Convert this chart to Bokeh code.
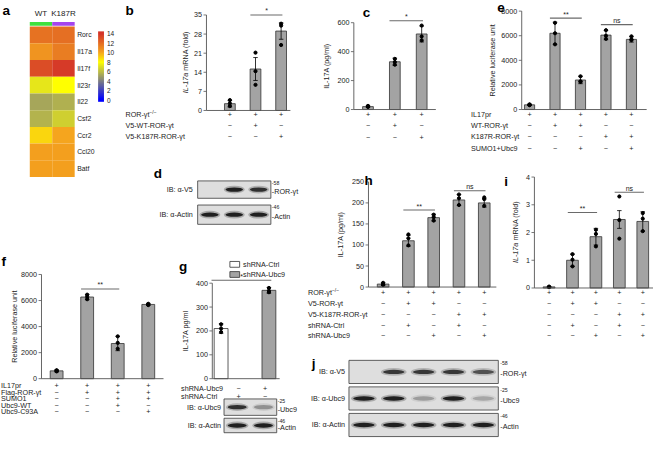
from math import pi
import numpy as np
from bokeh.plotting import figure
from bokeh.models import Range1d, LinearColorMapper, ColumnDataSource
from bokeh.embed import file_html
from bokeh.resources import INLINE
from bokeh.core.properties import value

# ---------------- data ----------------
genes = ["Rorc", "Il17a", "Il17f", "Il23r", "Il22", "Csf2", "Ccr2", "Ccl20", "Batf"]
heat_cols = ["WT", "K187R"]
heat_wt = [11.8, 10.6, 13.1, 7.2, 5.2, 5.6, 8.9, 10.2, 10.2]
heat_k187r = [11.9, 11.4, 13.8, 8.0, 5.5, 6.5, 10.0, 10.2, 10.2]
heat_ticks = [0, 2, 4, 6, 8, 10, 12, 14]

b_rows = ["ROR-γt", "V5-WT-ROR-γt", "V5-K187R-ROR-γt"]
b_signs = [["+", "+", "+"], ["−", "+", "−"], ["−", "−", "+"]]
b_mean = [2.5, 15.2, 29.1]
b_err = [1.2, 4.2, 3.0]
b_pts = [[3.8, 2.6, 1.6], [21.2, 14.4, 9.4], [31.8, 31.1, 24.0]]
b_ticks = [0, 7, 14, 21, 28, 35]
b_sig = [(2, 3, 35.0, "*")]

c_signs = [["+", "+", "+"], ["−", "+", "−"], ["−", "−", "+"]]
c_mean = [20, 330, 522]
c_err = [5, 25, 55]
c_pts = [[25, 22, 18], [350, 328, 310], [580, 505, 478]]
c_ticks = [0, 200, 400, 600]
c_sig = [(2, 3, 613, "*")]

e_rows = ["IL17pr", "WT-ROR-γt", "K187R-ROR-γt", "SUMO1+Ubc9"]
e_signs = [["+", "+", "+", "+", "+"], ["−", "+", "+", "−", "−"],
           ["−", "−", "−", "+", "+"], ["−", "−", "+", "−", "+"]]
e_mean = [380, 6200, 2400, 6050, 5700]
e_err = [50, 900, 300, 380, 220]
e_pts = [[420, 380, 350], [7050, 6200, 5300], [2700, 2300, 2250], [6450, 6000, 5750], [5950, 5700, 5650]]
e_ticks = [0, 2000, 4000, 6000, 8000]
e_sig = [(2, 3, 7430, "**"), (4, 5, 6900, "ns")]

f_rows = ["IL17pr", "Flag-ROR-γt", "SUMO1", "Ubc9-WT", "Ubc9-C93A"]
f_signs = [["+", "+", "+", "+"], ["−", "+", "+", "+"], ["−", "−", "+", "+"],
           ["−", "−", "+", "−"], ["−", "−", "−", "+"]]
f_mean = [600, 6270, 2700, 5700]
f_err = [80, 200, 550, 80]
f_pts = [[650, 600, 560], [6450, 6300, 6100], [3250, 2750, 2300], [5750, 5700, 5650]]
f_ticks = [0, 2000, 4000, 6000, 8000]
f_sig = [(2, 3, 6890, "**")]

g_groups = ["shRNA-Ctrl", "shRNA-Ubc9"]
g_mean = [210, 370]
g_err = [20, 12]
g_pts = [[228, 210, 195], [380, 368, 362]]
g_ticks = [0, 100, 200, 300, 400]
g_sig = [(1, 2, 412, "*")]
g_fill = ["#ffffff", "#a3a3a3"]
g_rows = ["shRNA-Ubc9", "shRNA-Ctrl"]
g_signs = [["−", "+"], ["+", "−"]]

h_rows = ["ROR-γt", "V5-ROR-γt", "V5-K187R-ROR-γt", "shRNA-Ctrl", "shRNA-Ubc9"]
h_signs = [["+", "+", "+", "+", "+"], ["−", "+", "+", "−", "−"], ["−", "−", "−", "+", "+"],
           ["−", "+", "−", "+", "−"], ["−", "−", "+", "−", "+"]]
h_mean = [7, 110, 165, 207, 200]
h_err = [3, 13, 8, 13, 10]
h_pts = [[10, 6, 5], [125, 116, 99], [172, 166, 158], [220, 211, 195], [213, 209, 193]]
h_ticks = [0, 50, 100, 150, 200, 250]
h_sig = [(2, 3, 183, "**"), (4, 5, 229, "ns")]

i_mean = [0.04, 1.0, 1.85, 2.47, 2.4]
i_err = [0.01, 0.22, 0.3, 0.32, 0.35]
i_pts = [[0.05, 0.04, 0.03], [1.22, 1.02, 0.78], [2.1, 1.95, 1.5], [3.3, 2.45, 1.78], [2.7, 2.5, 2.05]]
i_ticks = [0, 1, 2, 3, 4]
i_sig = [(2, 3, 2.72, "**"), (4, 5, 3.45, "ns")]

d_rows = ["IB: α-V5", "IB: α-Actin"]
d_marks = [("-58", "-ROR-γt"), ("-46", "-Actin")]
d_bands = [[0, 1.0, 0.9], [1.0, 1.0, 1.0]]

gb_rows = ["IB: α-Ubc9", "IB: α-Actin"]
gb_marks = [("-25", "-Ubc9"), ("-46", "-Actin")]
gb_bands = [[0.9, 0.35], [1.0, 1.0]]

j_rows = ["IB: α-V5", "IB: α-Ubc9", "IB: α-Actin"]
j_marks = [("-58", "-ROR-γt"), ("-25", "-Ubc9"), ("-46", "-Actin")]
j_bands = [[0, 0.85, 0.85, 0.85, 0.7], [1.0, 1.0, 0.3, 1.0, 0.25], [1.0, 1.0, 1.0, 1.0, 1.0]]

# ---------------- styling ----------------
FONT = "Liberation Sans"
FS = "7.2px"
TXT = "#222222"
AXC = "#555555"
BAR = "#a3a3a3"
SUP = ("ROR-γt",)

stops = [(0, (0, 0, 255)), (4, (128, 128, 128)), (8, (255, 255, 0)), (10, (245, 165, 30)), (14, (212, 52, 40))]
PAL = []
for k in range(141):
    v = k / 10.0
    for (v0, c0), (v1, c1) in zip(stops[:-1], stops[1:]):
        if v0 <= v <= v1:
            t = (v - v0) / float(v1 - v0)
            break
    PAL.append("#%02x%02x%02x" % tuple(int(round(a + (b - a) * t)) for a, b in zip(c0, c1)))

# one canvas in reference-pixel coordinates; each panel is a sub-coordinate system
p = figure(width=653, height=438, x_range=Range1d(0, 669), y_range=Range1d(454, 0),
           x_axis_type=None, y_axis_type=None, toolbar_location=None, output_backend="svg",
           min_border=0, min_border_left=0, min_border_right=0, min_border_top=0, min_border_bottom=0)
p.outline_line_color = None
p.background_fill_color = "white"
p.border_fill_color = "white"


def lin(p0, v0, p1, v1):
    k = (v1 - v0) / float(p1 - p0)
    return lambda q: v0 + (q - p0) * k


def texts(g, xs, ys, ts, size=FS, align="left", baseline="middle", angle=0.0, style="normal",
          color=TXT, x_offset=0, y_offset=0):
    g.text(x=list(xs), y=list(ys), text=list(ts), text_font=value(FONT), text_font_size=size,
           text_align=align, text_baseline=baseline, angle=angle, text_font_style=style,
           text_color=color, x_offset=x_offset, y_offset=y_offset)


def letter_at(xy, ch):
    texts(p, [xy[0]], [xy[1]], [ch], size="13.5px", baseline="top", style="bold", color="black")


def ylabel_text(x, cy, label):
    if isinstance(label, tuple):
        ital, rest = label
        anchor = cy + 10.5
        texts(p, [x], [anchor], [ital], align="right", angle=pi / 2, style="italic")
        texts(p, [x], [anchor - 2.3], [rest], align="left", angle=pi / 2)
    else:
        texts(p, [x], [cy], [label], align="center", angle=pi / 2)


def bar_panel(ax_x, ax_end, x1, step, base, top_px, ticks, means, errs, pts, ylabel, ylabel_x,
              sigs, signs, rows_y, rows=None, rows_x=None, sign_px=None, bar_w=0.42, fills=None,
              letter=None, letter_xy=None):
    fx = lin(x1, 1, x1 + step, 2)
    xd0, xd1 = fx(ax_x), fx(ax_end)
    top = ticks[-1]
    s = p.subplot(x_source=Range1d(xd0, xd1), y_source=Range1d(0, top),
                  x_target=Range1d(ax_x, ax_end), y_target=Range1d(base, top_px))
    n = len(means)
    xs = [k + 1 for k in range(n)]
    s.vbar(x=xs, top=means, width=bar_w, fill_color=fills or [BAR] * n,
           line_color="#333333", line_width=0.8)
    lo = [m - e for m, e in zip(means, errs)]
    hi = [m + e for m, e in zip(means, errs)]
    ux = 1.0 / step
    cap = 2.3 * ux
    s.segment(x0=xs, y0=lo, x1=xs, y1=hi, line_color="black", line_width=0.8)
    s.segment(x0=[x - cap for x in xs] * 2, y0=lo + hi, x1=[x + cap for x in xs] * 2, y1=lo + hi,
              line_color="black", line_width=0.8)
    s.scatter(x=[x for x, pp in zip(xs, pts) for _ in pp], y=[v for pp in pts for v in pp],
              size=3.2, color="black")
    for a, b2, lvl, txt in sigs:
        s.segment(x0=[a - 0.2], y0=[lvl], x1=[b2 + 0.05], y1=[lvl], line_color="#6a6a6a", line_width=1.1)
        texts(s, [(a + b2) / 2.0 - 0.07], [lvl], [txt], size="7px", align="center",
              baseline="bottom", y_offset=-0.5)
    # axes
    s.segment(x0=[xd0, xd0], y0=[0, 0], x1=[xd0, xd1], y1=[top, 0], line_color=AXC, line_width=0.9)
    nt = len(ticks)
    s.segment(x0=[xd0 - 3 * ux] * nt, y0=ticks, x1=[xd0] * nt, y1=ticks, line_color=AXC, line_width=0.8)
    texts(s, [xd0 - 4.5 * ux] * nt, ticks, [str(tk) for tk in ticks], align="right")
    ylabel_text(ylabel_x, (base + top_px) / 2.0, ylabel)
    # condition table under the bars
    nr = len(signs)
    tb = p.subplot(x_source=Range1d(xd0, xd1), y_source=Range1d(0, nr - 1),
                   x_target=Range1d(ax_x, ax_end), y_target=Range1d(rows_y[0], rows_y[-1]))
    tx, ty, tt = [], [], []
    for r, row in enumerate(signs):
        for k, sgn in enumerate(row):
            tx.append(xs[k] if sign_px is None else fx(sign_px[k]))
            ty.append(r)
            tt.append(sgn)
    texts(tb, tx, ty, tt, align="center")
    if rows:
        texts(tb, [fx(rows_x)] * nr, list(range(nr)), rows)
        for r, name in enumerate(rows):
            if name in SUP:
                texts(tb, [fx(rows_x + 24.5)], [r], ["−/−"], size="5px", y_offset=-2.5)
    if letter:
        letter_at(letter_xy, letter)
    return s, fx


def blot(lx0, lx1, n, cys, hh, rows, marks, bands, left_x, right_x, letter=None, letter_xy=None):
    nr = len(rows)
    sb = p.subplot(x_source=Range1d(0.5, n + 0.5), y_source=Range1d(0, nr - 1),
                   x_target=Range1d(lx0, lx1), y_target=Range1d(cys[-1], cys[0]))
    unit = (nr - 1) / float(cys[-1] - cys[0])
    lanes = list(range(1, n + 1))
    for r in range(nr):
        yc = nr - 1 - r
        h2 = hh[r] * unit
        sb.quad(left=[0.5], right=[n + 0.5], bottom=[yc - h2], top=[yc + h2],
                fill_color="#dedede", line_color="#3a3a3a", line_width=0.8)
        inten = bands[r]
        sb.ellipse(x=lanes, y=[yc] * n, width=0.86, height=8 * unit, fill_color="#333333",
                   fill_alpha=[0.3 * v for v in inten], line_color=None)
        sb.ellipse(x=lanes, y=[yc] * n, width=0.72, height=4.5 * unit, fill_color="#111111",
                   fill_alpha=[0.9 * v for v in inten], line_color=None)
    texts(p, [left_x] * nr, cys, rows, align="right")
    texts(p, [right_x] * nr, [c - h + 2.5 for c, h in zip(cys, hh)], [m[0] for m in marks], size="5.2px")
    texts(p, [right_x] * nr, [c + 2 for c in cys], [m[1] for m in marks])
    if letter:
        letter_at(letter_xy, letter)


# ---------------- panel a: heatmap ----------------
ng = len(genes)
fyh = lin(183, 0, 27, ng)
sh = p.subplot(x_source=Range1d(0, 2), y_source=Range1d(0, ng),
               x_target=Range1d(30, 76), y_target=Range1d(183, 27))
mapper = LinearColorMapper(palette=PAL, low=0, high=14)
ycent = [ng - 0.5 - k for k in range(ng)]
hsrc = ColumnDataSource(dict(x=[0.5] * ng + [1.5] * ng, y=ycent * 2, v=heat_wt + heat_k187r))
sh.rect(x="x", y="y", width=1, height=1, source=hsrc,
        fill_color={"field": "v", "transform": mapper}, line_color=None)
sh.quad(left=[0, 1], right=[1, 2], bottom=[fyh(26.3)] * 2, top=[fyh(22.3)] * 2,
        fill_color=["#3ee03e", "#a444ee"], line_color=None)
texts(sh, [0.5, 1.5], [fyh(13.5)] * 2, heat_cols, size="8px", align="center")
texts(sh, [2] * ng, ycent, genes, size="6.8px", x_offset=2.5)
letter_at((2, 3), "a")

fyc = lin(103.3, 0, 34.3, 14)
sc = p.subplot(x_source=Range1d(0, 1), y_source=Range1d(0, 14),
               x_target=Range1d(100, 106), y_target=Range1d(103.3, 34.3))
glo, ghi = fyc(105), fyc(32)
grad = np.linspace(glo, ghi, 120).reshape(-1, 1)
sc.image(image=[grad], x=0, y=glo, dw=1, dh=ghi - glo, color_mapper=mapper)
texts(sc, [1] * len(heat_ticks), heat_ticks, [str(tk) for tk in heat_ticks], size="6.5px", x_offset=3)

# ---------------- bar panels ----------------
bar_panel(211, 297, 235, 26.25, 114, 15, b_ticks, b_mean, b_err, b_pts,
          ("IL-17a", "mRNA (fold)"), 190, b_sig, b_signs, [118.5, 129.5, 140.5], rows=b_rows,
          rows_x=128, bar_w=0.42, letter="b", letter_xy=(128, 3))

bar_panel(362, 446, 376.5, 27.5, 113, 23, c_ticks, c_mean, c_err, c_pts,
          "IL-17A (pg/ml)", 334, c_sig, c_signs, [118, 130, 141.5], bar_w=0.4,
          letter="c", letter_xy=(371, 5))

bar_panel(534, 662, 542, 26.1, 113, 11, e_ticks, e_mean, e_err, e_pts,
          "Relative luciferase unit", 504, e_sig, e_signs, [118, 130, 141.5, 153], rows=e_rows, rows_x=482,
          bar_w=0.4, letter="e", letter_xy=(509, 3))

bar_panel(42, 167, 57.5, 31.3, 392, 284, f_ticks, f_mean, f_err, f_pts,
          "Relative luciferase unit", 14, f_sig, f_signs, [399, 406.5, 413, 419.5, 426.5], rows=f_rows,
          rows_x=0.5, bar_w=0.42, letter="f", letter_xy=(1, 263))

sg, fxg = bar_panel(217, 286, 226, 49, 392, 293, g_ticks, g_mean, g_err, g_pts,
                    "IL-17A pg/ml", 190, g_sig, g_signs, [402, 410], rows=g_rows, rows_x=185,
                    sign_px=[244, 271], bar_w=0.29, fills=g_fill, letter="g", letter_xy=(183, 268))
leg_y = [273.5, 284]
p.quad(left=[235] * 2, right=[245] * 2, bottom=[y + 3 for y in leg_y], top=[y - 3 for y in leg_y],
       fill_color=g_fill, line_color="#333333", line_width=0.8)
texts(p, [248.5] * 2, leg_y, g_groups)

bar_panel(377, 508, 392, 25.9, 297, 188, h_ticks, h_mean, h_err, h_pts,
          "IL-17A (pg/ml)", 348, h_sig, h_signs, [303, 314.5, 326, 337, 347.5], rows=h_rows, rows_x=315,
          bar_w=0.46, letter="h", letter_xy=(373, 179))

bar_panel(547, 669, 562, 24, 298, 183, i_ticks, i_mean, i_err, i_pts,
          ("IL-17a", "mRNA (fold)"), 528, i_sig, h_signs, [303, 314.5, 326, 337, 347.5], bar_w=0.5,
          letter="i", letter_xy=(516, 180))

# ---------------- blots ----------------
blot(202, 277, 3, [196, 222], [9, 10], d_rows, d_marks, d_bands, 197, 278,
     letter="d", letter_xy=(157, 172))
blot(229, 283, 2, [421.5, 440.5], [8.5, 7.5], gb_rows, gb_marks, gb_bands, 226, 284)
blot(357, 510, 5, [385, 413, 440], [12, 12, 12], j_rows, j_marks, j_bands, 353, 512,
     letter="j", letter_xy=(319, 368))

open("out.html", "w").write(file_html(p, INLINE))
